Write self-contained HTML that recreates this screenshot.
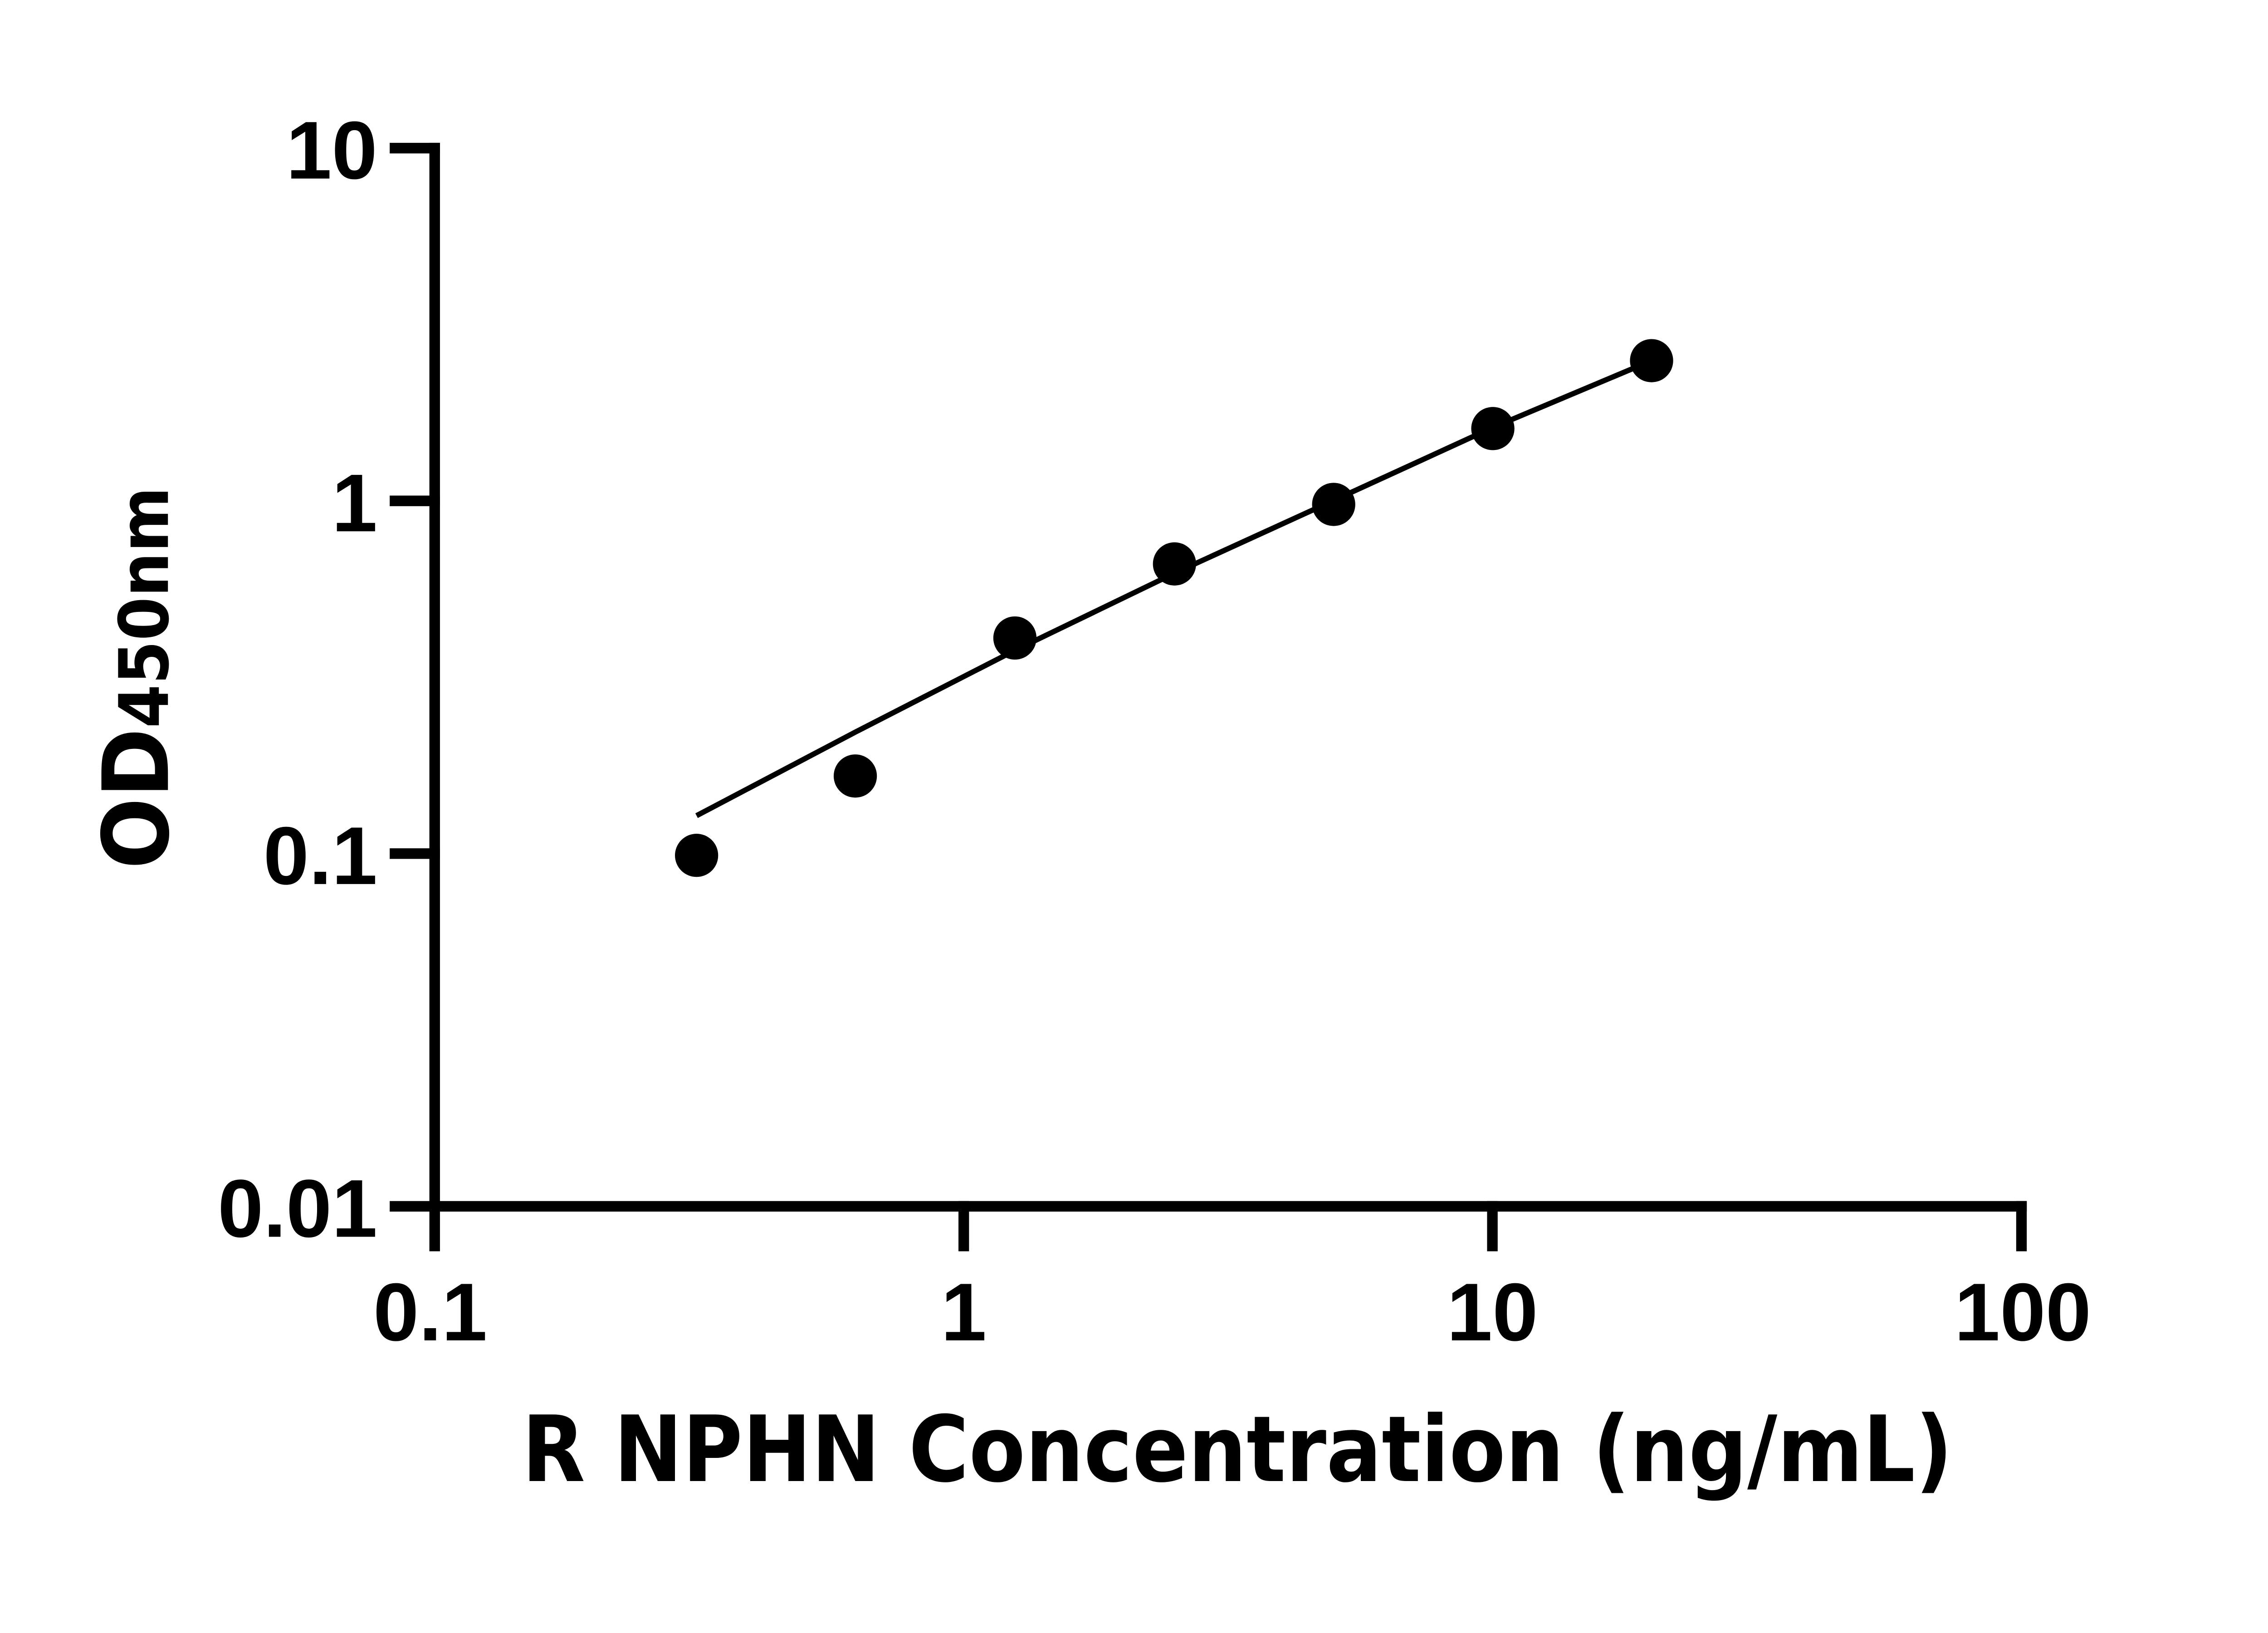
<!DOCTYPE html>
<html><head><meta charset="utf-8"><style>
html,body{margin:0;padding:0;background:#fff;}
svg{display:block;}
</style></head><body>
<svg width="5142" height="3600" viewBox="0 0 5142 3600" xmlns="http://www.w3.org/2000/svg">
<rect width="5142" height="3600" fill="#fff"/>
<g transform="translate(-4,0) scale(0.972)">
<g stroke="#000" stroke-width="24" fill="none">
<line x1="990" y1="324" x2="990" y2="2748"/>
<line x1="978" y1="2736" x2="4601" y2="2736"/>
<line x1="888" y1="336" x2="1002" y2="336"/>
<line x1="888" y1="1136" x2="1002" y2="1136"/>
<line x1="888" y1="1936" x2="1002" y2="1936"/>
<line x1="888" y1="2736" x2="1002" y2="2736"/>
<line x1="990" y1="2724" x2="990" y2="2838"/>
<line x1="2190" y1="2724" x2="2190" y2="2838"/>
<line x1="3389" y1="2724" x2="3389" y2="2838"/>
<line x1="4589" y1="2724" x2="4589" y2="2838"/>
</g>
<g font-family="Liberation Sans, Arial, sans-serif" font-weight="bold" font-size="186" fill="#000">
<text x="860" y="405" text-anchor="end">10</text>
<text x="860" y="1205" text-anchor="end">1</text>
<text x="860" y="2005" text-anchor="end">0.1</text>
<text x="860" y="2805" text-anchor="end">0.01</text>
<text x="980" y="3040" text-anchor="middle">0.1</text>
<text x="2190" y="3040" text-anchor="middle">1</text>
<text x="3389" y="3040" text-anchor="middle">10</text>
<text x="4592" y="3040" text-anchor="middle">100</text>
</g>
<text x="1188" y="3359" font-family="DejaVu Sans, sans-serif" font-weight="bold" font-size="207" textLength="3245" lengthAdjust="spacingAndGlyphs">R NPHN Concentration (ng/mL)</text>
<text transform="translate(385,1971) rotate(-90)" font-family="DejaVu Sans, sans-serif" font-weight="bold" font-size="207" textLength="867" lengthAdjust="spacingAndGlyphs">OD<tspan font-size="155">450nm</tspan></text>
<polyline fill="none" stroke="#000" stroke-width="12" points="1584,1850 1945,1660 2306,1475 2668,1300 3029,1135 3389,970 3750,818"/>
<g fill="#000">
<circle cx="1584" cy="1940" r="49"/>
<circle cx="1944" cy="1760" r="49"/>
<circle cx="2306" cy="1447" r="49"/>
<circle cx="2668" cy="1279" r="49"/>
<circle cx="3029" cy="1144" r="49"/>
<circle cx="3390" cy="972" r="49"/>
<circle cx="3750" cy="818" r="49"/>
</g>
</g>
</svg>
</body></html>
